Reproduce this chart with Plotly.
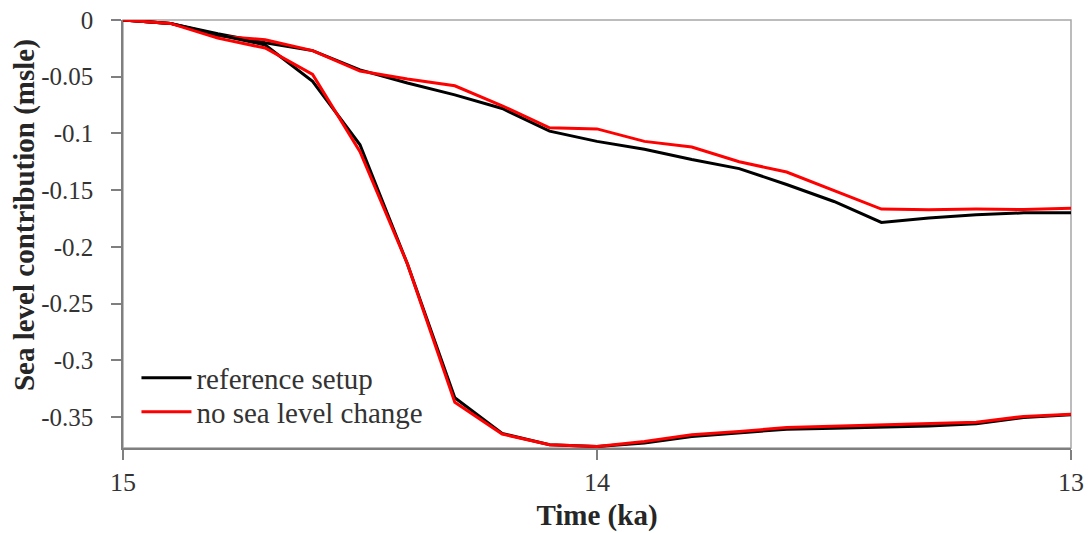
import plotly.graph_objects as go

# Time axis (ka)
time_ka = [15.0, 14.9, 14.8, 14.7, 14.6, 14.5, 14.4, 14.3, 14.2, 14.1, 14.0,
           13.9, 13.8, 13.7, 13.6, 13.5, 13.4, 13.3, 13.2, 13.1, 13.0]

# Slowly declining pair
ref_slow = [0.0, -0.003, -0.012, -0.020, -0.027, -0.044, -0.0556, -0.066, -0.078, -0.098, -0.107,
            -0.114, -0.123, -0.131, -0.145, -0.160, -0.1785, -0.1746, -0.1717, -0.170, -0.170]
nosl_slow = [0.0, -0.003, -0.014, -0.0174, -0.027, -0.045, -0.052, -0.058, -0.0756, -0.095, -0.096,
             -0.107, -0.112, -0.125, -0.134, -0.150, -0.1667, -0.1673, -0.1667, -0.167, -0.166]

# Rapidly declining pair
ref_fast = [0.0, -0.003, -0.013, -0.022, -0.054, -0.110, -0.215, -0.333, -0.3645, -0.3745, -0.376,
            -0.373, -0.3672, -0.3642, -0.3607, -0.3598, -0.3589, -0.3578, -0.356, -0.3504, -0.348]
nosl_fast = [0.0, -0.003, -0.016, -0.0247, -0.048, -0.116, -0.215, -0.337, -0.365, -0.3745, -0.376,
             -0.3716, -0.3657, -0.3628, -0.3592, -0.358, -0.3572, -0.3557, -0.3545, -0.3495, -0.3475]

series_names = ["reference setup", "no sea level change"]
y_ticks = [0, -0.05, -0.1, -0.15, -0.2, -0.25, -0.3, -0.35]
y_tick_text = ["0", "-0.05", "-0.1", "-0.15", "-0.2", "-0.25", "-0.3", "-0.35"]
x_ticks = [15, 14, 13]

BLACK = "#000000"
RED = "#ff0000"
FONT = "Liberation Serif"

fig = go.Figure()
fig.add_trace(go.Scatter(x=time_ka, y=ref_slow, mode="lines", name=series_names[0],
                         legendgroup="ref", showlegend=True, legend="legend",
                         line=dict(color=BLACK, width=3)))
fig.add_trace(go.Scatter(x=time_ka, y=nosl_slow, mode="lines", name=series_names[1],
                         legendgroup="nosl", showlegend=True, legend="legend2",
                         line=dict(color=RED, width=3)))
fig.add_trace(go.Scatter(x=time_ka, y=ref_fast, mode="lines", name=series_names[0],
                         legendgroup="ref", showlegend=False, legend="legend",
                         line=dict(color=BLACK, width=3)))
fig.add_trace(go.Scatter(x=time_ka, y=nosl_fast, mode="lines", name=series_names[1],
                         legendgroup="nosl", showlegend=False, legend="legend2",
                         line=dict(color=RED, width=3)))

legend_style = dict(xanchor="left", yanchor="middle", bgcolor="rgba(0,0,0,0)",
                    font=dict(family=FONT, size=29, color="#333333"), itemwidth=50)

fig.update_layout(
    width=1089, height=533,
    margin=dict(l=123, r=18, t=20, b=85),
    paper_bgcolor="white", plot_bgcolor="white",
    font=dict(family=FONT, size=25, color="#333333"),
    showlegend=True,
    legend=dict(x=0.0142, y=0.1636, **legend_style),
    legend2=dict(x=0.0142, y=0.0841, **legend_style),
    shapes=[dict(type="rect", xref="paper", yref="paper", x0=0, x1=1, y0=0, y1=1,
                 line=dict(color="#a6a6a6", width=1.5), layer="below")],
    annotations=[dict(text="<b>Sea level contribution (msle)</b>", textangle=-90,
                      xref="paper", yref="paper", x=-0.1045, y=0.544,
                      xanchor="center", yanchor="middle", showarrow=False,
                      font=dict(family=FONT, size=29, color="#262626"))],
)
fig.update_xaxes(
    range=[15, 13], tickvals=x_ticks, ticktext=[str(v) for v in x_ticks],
    automargin=False,
    showgrid=False, zeroline=False, showline=True, linecolor="#7f7f7f", linewidth=1.5,
    ticks="outside", ticklen=10, tickcolor="#7f7f7f", tickwidth=1.5,
    tickfont=dict(family=FONT, size=26, color="#333333"),
    title=dict(text="<b>Time (ka)</b>", font=dict(family=FONT, size=29, color="#262626"), standoff=9),
)
fig.update_yaxes(
    range=[-0.3773, 0], tickvals=y_ticks, ticktext=y_tick_text,
    automargin=False, ticklabelstandoff=13,
    showgrid=False, zeroline=False, showline=True, linecolor="#7f7f7f", linewidth=1.5,
    ticks="outside", ticklen=10, tickcolor="#7f7f7f", tickwidth=1.5,
    tickfont=dict(family=FONT, size=25, color="#333333"),
)

fig.write_html("out.html", config={"displayModeBar": False},
               post_script="document.body.style.margin='0';document.body.style.overflow='hidden';")
